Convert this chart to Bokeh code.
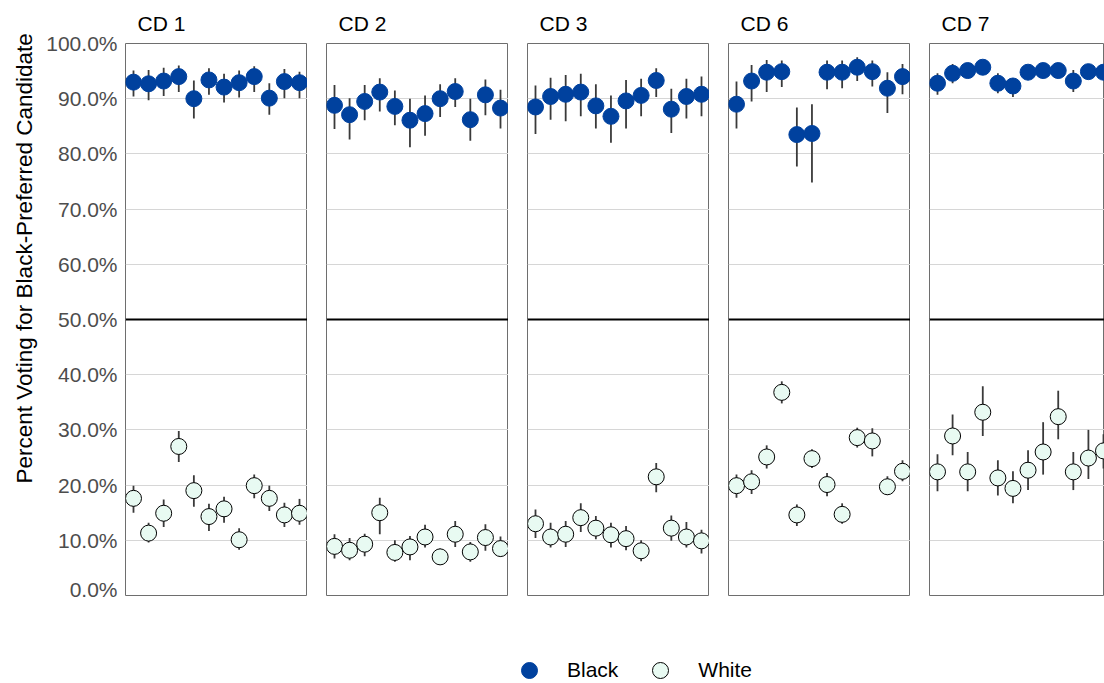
from bokeh.plotting import figure
from bokeh.layouts import row, column
from bokeh.models import (Range1d, SingleIntervalTicker, PrintfTickFormatter, Span,
                          Legend, LegendItem, ColumnDataSource, Title)
from bokeh.embed import file_html
from bokeh.resources import INLINE

# ---------------- data ----------------
panels = ["CD 1", "CD 2", "CD 3", "CD 6", "CD 7"]
positions = list(range(1, 13))

black_est = [
    [93.0, 92.7, 93.2, 94.0, 90.0, 93.4, 92.1, 92.9, 94.0, 90.1, 93.1, 92.9],
    [88.8, 87.1, 89.5, 91.2, 88.6, 86.1, 87.3, 90.0, 91.3, 86.2, 90.7, 88.3],
    [88.5, 90.4, 90.8, 91.2, 88.7, 86.8, 89.6, 90.6, 93.3, 88.1, 90.4, 90.8],
    [89.0, 93.2, 94.8, 94.9, 83.5, 83.7, 94.8, 94.8, 95.7, 94.9, 91.9, 94.0],
    [92.8, 94.6, 95.1, 95.7, 92.8, 92.3, 94.8, 95.1, 95.1, 93.2, 94.9, 94.8],
]
black_low = [
    [90.4, 89.7, 90.5, 91.2, 86.4, 90.7, 89.3, 90.2, 91.2, 87.1, 90.1, 90.1],
    [84.5, 82.6, 86.1, 87.7, 85.2, 81.2, 83.3, 86.7, 88.5, 82.4, 87.0, 84.6],
    [83.6, 86.2, 85.9, 86.8, 84.6, 82.0, 84.6, 86.8, 90.3, 83.8, 86.4, 86.8],
    [84.6, 89.5, 91.2, 92.1, 77.7, 74.8, 91.7, 91.9, 93.2, 92.2, 87.4, 90.8],
    [90.7, 92.8, 93.9, 94.5, 91.0, 90.3, 93.6, 93.9, 93.9, 91.2, 93.7, 93.6],
]
black_high = [
    [95.1, 95.2, 95.6, 96.0, 93.3, 95.5, 94.5, 95.1, 95.9, 92.8, 95.4, 94.9],
    [92.5, 90.1, 92.5, 93.7, 91.5, 90.0, 90.6, 92.6, 93.7, 90.0, 93.5, 91.6],
    [92.4, 93.8, 94.3, 94.5, 92.6, 90.6, 93.4, 93.6, 95.5, 91.8, 93.6, 94.0],
    [93.1, 96.1, 97.0, 96.9, 88.4, 89.0, 96.9, 96.9, 97.5, 96.9, 94.8, 96.3],
    [94.6, 96.3, 96.3, 96.9, 94.6, 93.7, 96.0, 96.3, 96.3, 95.2, 96.1, 96.0],
]
white_est = [
    [17.6, 11.3, 14.9, 27.0, 19.0, 14.3, 15.7, 10.1, 19.9, 17.6, 14.6, 14.9],
    [8.9, 8.2, 9.3, 15.0, 7.8, 8.8, 10.6, 7.0, 11.1, 7.9, 10.5, 8.5],
    [13.0, 10.6, 11.1, 14.1, 12.2, 11.0, 10.3, 8.1, 21.5, 12.2, 10.6, 9.9],
    [19.9, 20.6, 25.1, 36.8, 14.6, 24.8, 20.1, 14.7, 28.6, 28.0, 19.7, 22.5],
    [22.4, 28.9, 22.4, 33.2, 21.3, 19.4, 22.7, 26.0, 32.4, 22.4, 24.9, 26.2],
]
white_low = [
    [15.0, 9.6, 12.4, 24.2, 16.1, 11.7, 13.2, 8.3, 17.6, 15.3, 12.4, 12.8],
    [6.7, 6.4, 7.1, 11.1, 6.1, 6.4, 8.7, 5.6, 8.8, 6.1, 8.1, 7.0],
    [10.4, 8.7, 8.8, 11.5, 10.2, 8.7, 8.2, 6.2, 18.7, 9.9, 8.7, 7.6],
    [17.7, 18.4, 23.0, 34.8, 12.6, 23.1, 18.0, 13.0, 26.8, 25.2, 18.2, 20.7],
    [18.9, 25.4, 18.9, 28.9, 18.1, 16.7, 19.1, 21.9, 28.3, 19.1, 21.1, 23.0],
]
white_high = [
    [19.9, 13.2, 17.4, 29.8, 21.8, 16.6, 17.9, 12.2, 21.9, 19.9, 16.8, 17.5],
    [11.1, 10.4, 11.2, 17.7, 10.0, 10.8, 12.8, 8.5, 13.5, 9.7, 12.9, 10.7],
    [15.6, 13.2, 13.5, 16.7, 14.4, 13.2, 12.6, 10.0, 24.0, 14.5, 13.3, 11.9],
    [21.9, 22.7, 27.2, 38.8, 16.5, 26.5, 22.2, 16.7, 30.4, 30.3, 21.6, 24.5],
    [25.6, 32.8, 26.0, 37.9, 24.5, 22.5, 26.3, 31.4, 37.1, 26.0, 30.0, 29.2],
]

y_label = "Percent Voting for Black-Preferred Candidate"
legend_labels = ["Black", "White"]

# ---------------- style ----------------
FONT = "Liberation Sans"
BLUE = "#00419E"
MINT = "#E8FAF2"
FRAME_W = 182
LAST_FRAME_W = 175
X_START, X_END = 0.47, 12.53

figs = []
for i, name in enumerate(panels):
    first = i == 0
    last = i == len(panels) - 1
    fw = LAST_FRAME_W if last else FRAME_W
    left = 125 if first else 19
    x_end = X_START + (X_END - X_START) * fw / FRAME_W
    p = figure(width=left + fw, height=600,
               x_range=Range1d(X_START, x_end), y_range=Range1d(0, 100),
               output_backend="svg", toolbar_location=None,
               x_axis_location=None,
               y_axis_location="left" if first else None,
               min_border_left=left, min_border_right=0,
               min_border_top=42, min_border_bottom=5,
               title=name)
    p.title.text_font = FONT
    p.title.text_font_size = "21px"
    p.title.text_font_style = "normal"
    p.title.text_color = "black"
    p.title.align = "left"
    p.title.offset = 12
    p.title.standoff = 18
    p.outline_line_color = "#6e6e6e"
    p.outline_line_width = 1
    p.background_fill_color = "white"
    p.border_fill_color = "white"
    p.xgrid.visible = False
    p.ygrid.ticker = SingleIntervalTicker(interval=10, num_minor_ticks=0)
    p.ygrid.grid_line_color = "#d6d6d6"
    p.ygrid.grid_line_width = 1

    if first:
        ax = p.yaxis[0]
        ax.ticker = SingleIntervalTicker(interval=10, num_minor_ticks=0)
        ax.formatter = PrintfTickFormatter(format="%.1f%%")
        ax.axis_line_color = None
        ax.major_tick_line_color = None
        ax.minor_tick_line_color = None
        ax.major_tick_out = 0
        ax.major_tick_in = 0
        ax.major_label_standoff = 8
        ax.major_label_text_font = FONT
        ax.major_label_text_font_size = "21px"
        ax.major_label_text_color = "#4d4d4d"
        # the y title sits above the panel centre, as in the reference
        p.add_layout(Title(text=y_label, align="left", offset=112, standoff=14,
                           text_font=FONT, text_font_size="22.5px",
                           text_font_style="normal", text_color="black"), "left")

    p.add_layout(Span(location=50, dimension="width", line_color="black", line_width=2))

    bsrc = ColumnDataSource(dict(x=positions, est=black_est[i], lo=black_low[i], hi=black_high[i]))
    wsrc = ColumnDataSource(dict(x=positions, est=white_est[i], lo=white_low[i], hi=white_high[i]))
    for src in (bsrc, wsrc):
        p.segment(x0="x", y0="lo", x1="x", y1="hi", source=src,
                  line_color="#3a3a3a", line_width=1.8)
    p.scatter("x", "est", source=bsrc, size=16, fill_color=BLUE, line_color=BLUE)
    p.scatter("x", "est", source=wsrc, size=16, fill_color=MINT, line_color="black", line_width=1)
    figs.append(p)

# legend strip (key renderers sit outside the visible range; only their legend entries show)
lg = figure(width=1104, height=83, output_backend="svg", toolbar_location=None,
            x_axis_location=None, y_axis_location=None,
            x_range=Range1d(0, 1), y_range=Range1d(0, 1),
            min_border_left=0, min_border_right=0, min_border_top=0, min_border_bottom=0,
            outline_line_color=None)
lg.xgrid.visible = False
lg.ygrid.visible = False
r1 = lg.scatter(x=[-5], y=[-5], size=16, fill_color=BLUE, line_color=BLUE)
r2 = lg.scatter(x=[-5], y=[-5], size=16, fill_color=MINT, line_color="black", line_width=1)
legend = Legend(items=[LegendItem(label=legend_labels[0], renderers=[r1]),
                       LegendItem(label=legend_labels[1], renderers=[r2])],
                orientation="horizontal", location=(509, -7),
                glyph_width=40, glyph_height=40, label_standoff=18, spacing=22,
                padding=0, margin=0, border_line_color=None, background_fill_alpha=0,
                label_text_font=FONT, label_text_font_size="21px", label_text_color="black")
lg.add_layout(legend, "center")

layout = column(row(*figs), lg)
open("out.html", "w").write(file_html(layout, INLINE))
